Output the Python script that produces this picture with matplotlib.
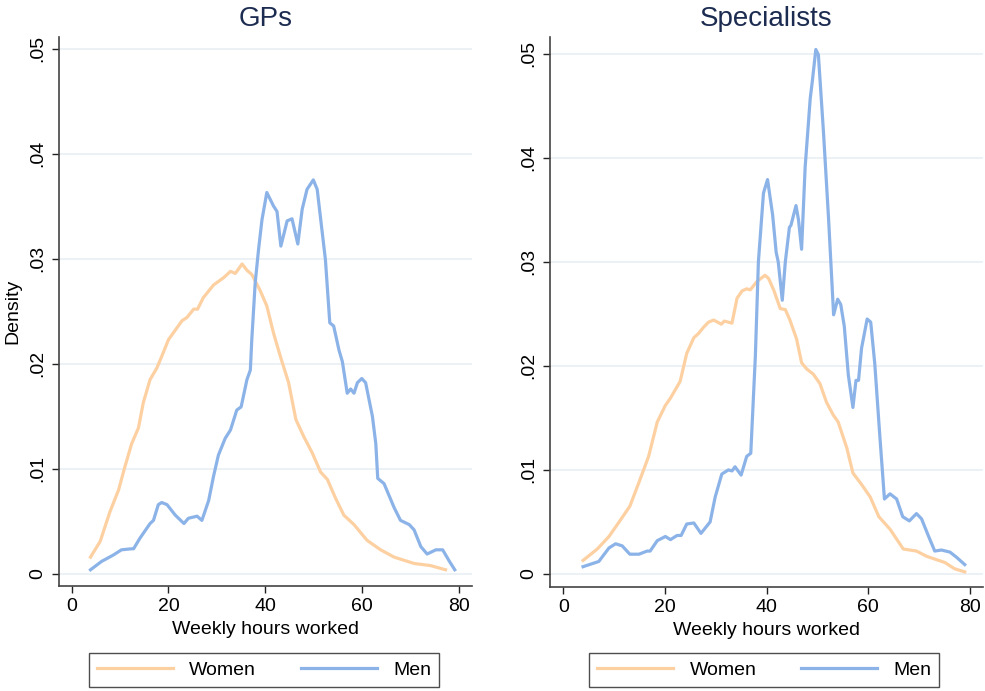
import matplotlib
matplotlib.use('Agg')
import matplotlib.pyplot as plt
from matplotlib.lines import Line2D

plt.rcParams['font.family'] = ['Liberation Sans', 'DejaVu Sans']

# GPs - women
gp_women_x = [3.9, 5.9, 7.9, 9.7, 11.0, 12.4, 13.8, 14.8, 16.2, 17.6, 18.6, 20.0, 21.4, 22.8,
              23.8, 25.2, 26.0, 27.2, 29.3, 31.4, 32.8, 33.8, 35.2, 36.2, 37.2, 38.9, 40.3,
              41.7, 43.1, 44.8, 46.3, 47.9, 49.7, 51.4, 52.8, 54.5, 56.2, 58.3, 61.0, 63.8,
              66.6, 70.7, 74.1, 77.2]
gp_women_y = [0.0016, 0.0031, 0.0059, 0.0080, 0.0102, 0.0124, 0.0139, 0.0163, 0.0185, 0.0196,
              0.0207, 0.0223, 0.0232, 0.0241, 0.0244, 0.0252, 0.0252, 0.0263, 0.0275, 0.0282,
              0.0288, 0.0286, 0.0295, 0.0289, 0.0285, 0.0270, 0.0255, 0.0229, 0.0207, 0.0182,
              0.0147, 0.0131, 0.0115, 0.0097, 0.0090, 0.0072, 0.0056, 0.0047, 0.0032, 0.0023,
              0.0016, 0.0010, 0.0008, 0.0004]

# GPs - men
gp_men_x = [3.9, 6.2, 8.6, 10.3, 12.4, 12.8, 14.1, 16.2, 16.9, 17.9, 18.6, 19.7, 21.4, 23.2,
            24.1, 25.9, 26.9, 28.3, 29.3, 30.3, 31.7, 32.8, 34.1, 35.0, 36.2, 36.9, 37.2, 37.9,
            38.6, 39.3, 40.3, 41.7, 42.4, 43.2, 44.5, 45.5, 46.7, 47.6, 48.6, 49.9, 50.7, 52.4,
            53.3, 54.1, 55.2, 55.9, 56.9, 57.6, 58.3, 59.0, 59.9, 60.7, 62.1, 62.8, 63.2, 64.5,
            66.6, 67.9, 69.7, 70.7, 72.1, 73.4, 75.2, 76.6, 78.0, 79.1]
gp_men_y = [0.0004, 0.0012, 0.0018, 0.0023, 0.0024, 0.0024, 0.0034, 0.0048, 0.0051, 0.0066,
            0.0068, 0.0066, 0.0056, 0.0048, 0.0053, 0.0055, 0.0051, 0.0070, 0.0093, 0.0113,
            0.0129, 0.0137, 0.0156, 0.0159, 0.0185, 0.0194, 0.0223, 0.0277, 0.0309, 0.0337,
            0.0363, 0.0350, 0.0345, 0.0312, 0.0336, 0.0338, 0.0314, 0.0347, 0.0366, 0.0375,
            0.0366, 0.0299, 0.0239, 0.0236, 0.0213, 0.0202, 0.0172, 0.0176, 0.0172, 0.0182,
            0.0186, 0.0182, 0.0150, 0.0124, 0.0091, 0.0086, 0.0063, 0.0051, 0.0047, 0.0042,
            0.0026, 0.0019, 0.0023, 0.0023, 0.0012, 0.0004]

# Specialists - women
sp_women_x = [3.9, 6.7, 9.0, 11.0, 13.1, 14.9, 16.8, 18.5, 20.1, 21.1, 23.0, 24.3, 25.7, 26.6,
              27.6, 28.6, 29.6, 31.1, 31.7, 33.2, 34.2, 35.2, 36.1, 36.8, 38.1, 39.7, 40.4,
              41.4, 42.7, 43.7, 44.6, 45.9, 46.9, 47.9, 49.2, 50.5, 51.8, 53.1, 54.1, 55.8,
              57.0, 58.7, 60.4, 62.1, 64.3, 66.9, 69.5, 71.5, 75.1, 77.0, 79.0]
sp_women_y = [0.0013, 0.0024, 0.0036, 0.0050, 0.0065, 0.0088, 0.0113, 0.0146, 0.0162, 0.0169,
              0.0185, 0.0212, 0.0227, 0.0231, 0.0237, 0.0242, 0.0244, 0.0240, 0.0243, 0.0241,
              0.0265, 0.0272, 0.0274, 0.0273, 0.0281, 0.0287, 0.0284, 0.0273, 0.0255, 0.0254,
              0.0244, 0.0226, 0.0203, 0.0197, 0.0192, 0.0183, 0.0165, 0.0153, 0.0146, 0.0121,
              0.0097, 0.0086, 0.0074, 0.0055, 0.0043, 0.0024, 0.0022, 0.0017, 0.0011, 0.0005,
              0.0002]

# Specialists - men
sp_men_x = [3.9, 7.0, 9.0, 10.3, 11.6, 13.1, 14.9, 16.5, 17.1, 18.5, 20.1, 21.1, 22.4, 23.2,
            24.3, 25.7, 27.1, 28.9, 29.9, 31.2, 32.5, 33.2, 33.8, 35.0, 36.1, 36.9, 37.8, 38.4,
            39.4, 40.2, 41.2, 41.9, 42.3, 43.1, 43.7, 44.5, 44.8, 45.8, 46.3, 46.9, 47.6, 48.6,
            49.0, 49.7, 50.2, 51.2, 52.2, 53.2, 54.0, 54.6, 55.3, 56.1, 57.0, 57.6, 58.1, 58.7,
            59.8, 60.5, 61.3, 62.2, 63.2, 64.3, 65.6, 66.8, 68.1, 69.5, 70.5, 71.9, 73.1, 74.4,
            76.1, 77.4, 79.0]
sp_men_y = [0.0007, 0.0012, 0.0025, 0.0029, 0.0027, 0.0019, 0.0019, 0.0022, 0.0022, 0.0032,
            0.0036, 0.0033, 0.0037, 0.0037, 0.0048, 0.0049, 0.0039, 0.0050, 0.0074, 0.0096,
            0.0100, 0.0099, 0.0103, 0.0095, 0.0113, 0.0116, 0.0209, 0.0300, 0.0366, 0.0379,
            0.0345, 0.0309, 0.0300, 0.0263, 0.0300, 0.0333, 0.0335, 0.0354, 0.0340, 0.0312,
            0.0391, 0.0457, 0.0473, 0.0504, 0.0499, 0.0425, 0.0342, 0.0249, 0.0264, 0.0259,
            0.0238, 0.0191, 0.0160, 0.0186, 0.0186, 0.0217, 0.0245, 0.0242, 0.0202, 0.0139,
            0.0072, 0.0077, 0.0072, 0.0055, 0.0051, 0.0058, 0.0053, 0.0036, 0.0022, 0.0023,
            0.0021, 0.0016, 0.0009]

x_ticks = [0, 20, 40, 60, 80]
y_ticks = [0, 0.01, 0.02, 0.03, 0.04, 0.05]
y_ticklabels = ['0', '.01', '.02', '.03', '.04', '.05']
titles = ['GPs', 'Specialists']
series_names = ['Women', 'Men']

women_color = '#fdd0a2'
men_color = '#8cb3e8'
grid_color = '#eaf0f4'
title_color = '#1c2b50'

fig = plt.figure(figsize=(9.85, 6.91), dpi=100)
ax_gp = fig.add_axes([0.0599, 0.152, 0.419, 0.7945])
ax_sp = fig.add_axes([0.5584, 0.151, 0.4396, 0.7955])

panels = [
    (ax_gp, gp_women_x, gp_women_y, gp_men_x, gp_men_y, (-0.00114, 0.0511), 0.268),
    (ax_sp, sp_women_x, sp_women_y, sp_men_x, sp_men_y, (-0.00122, 0.0516), 0.776),
]

for i, (ax, wx, wy, mx, my, ylim, leg_x) in enumerate(panels):
    for y in y_ticks:
        ax.axhline(y, color=grid_color, lw=1.3, zorder=0)
    ax.plot(wx, wy, color=women_color, lw=2.3, solid_joinstyle='round')
    ax.plot(mx, my, color=men_color, lw=2.3, solid_joinstyle='round')
    ax.set_xlim(-2.6, 82.6)
    ax.set_ylim(*ylim)
    ax.set_xticks(x_ticks)
    ax.set_yticks(y_ticks)
    ax.set_yticklabels(y_ticklabels, rotation=90, va='center')
    ax.tick_params(labelsize=14, length=5, width=1, color='#222222', pad=4)
    for side in ['top', 'right']:
        ax.spines[side].set_visible(False)
    for side in ['left', 'bottom']:
        ax.spines[side].set_color('#444444')
        ax.spines[side].set_linewidth(1.2)
    ax.set_title(titles[i], fontsize=20, color=title_color, pad=8)
    ax.set_xlabel('Weekly hours worked', fontsize=14, labelpad=4)

    handles = [Line2D([], [], color=women_color, lw=2.3),
               Line2D([], [], color=men_color, lw=2.3)]
    leg = fig.legend(handles, series_names, loc='center', bbox_to_anchor=(leg_x, 0.0304),
                     ncol=2, fontsize=14, frameon=True, fancybox=False, edgecolor='#222222',
                     handlelength=3.9, handletextpad=0.85, columnspacing=2.3,
                     borderpad=0.4, borderaxespad=0)
    leg.get_frame().set_linewidth(1.0)

ax_gp.set_ylabel('Density', fontsize=14, labelpad=6)

fig.savefig('out.png', dpi=100)
